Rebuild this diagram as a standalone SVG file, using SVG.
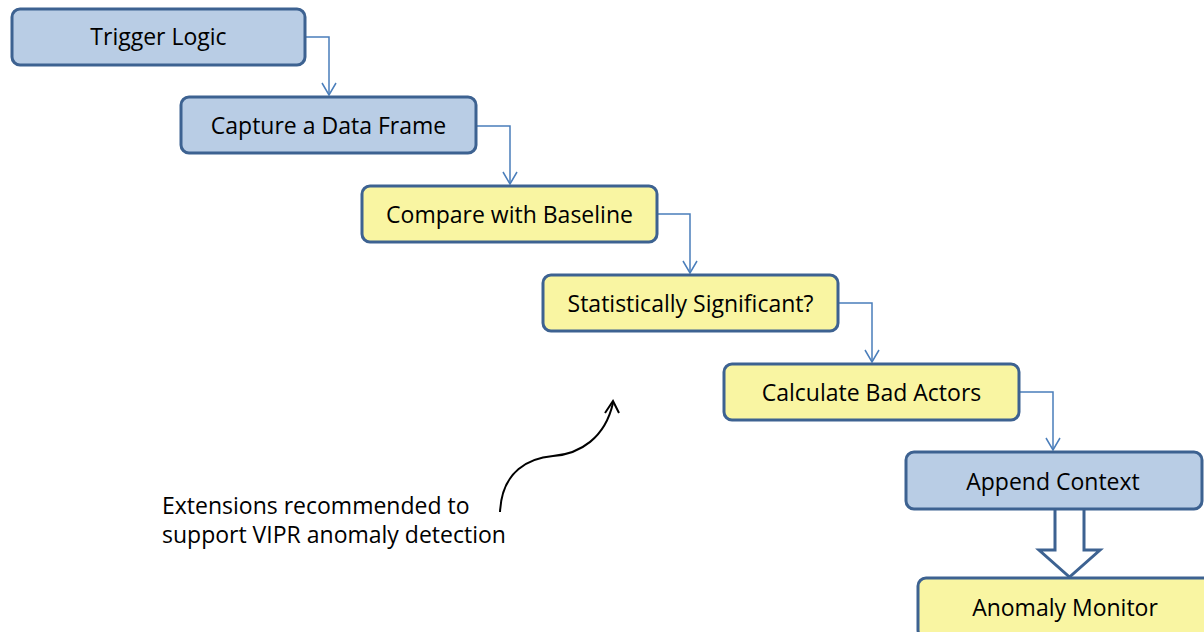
<svg xmlns="http://www.w3.org/2000/svg" width="1204" height="632" viewBox="0 0 1204 632">
<defs>
<style>
.node rect{stroke:#3d6291;stroke-width:3}
.blue rect{fill:#b9cde5}
.yellow rect{fill:#f9f5a2}
text{font-family:"Open Sans","Liberation Sans",sans-serif;font-size:23px;fill:#000}
.node text{text-anchor:middle}
.conn{fill:none;stroke:#4a7ebb;stroke-width:1.5}
</style>
<marker id="arr" viewBox="0 0 16 16" refX="14" refY="8" markerWidth="16" markerHeight="16" markerUnits="userSpaceOnUse" orient="auto">
<path d="M2,1 L14,8 L2,15" fill="none" stroke="#4a7ebb" stroke-width="1.5"/>
</marker>
</defs>
<rect width="1204" height="632" fill="#fff"/>
<g id="connectors">
<path class="conn" d="M306,37 H329 V95" marker-end="url(#arr)"/>
<path class="conn" d="M477,126 H510 V184" marker-end="url(#arr)"/>
<path class="conn" d="M658,214 H690 V273" marker-end="url(#arr)"/>
<path class="conn" d="M838,303 H872 V362" marker-end="url(#arr)"/>
<path class="conn" d="M1020,392 H1053 V450" marker-end="url(#arr)"/>
<path d="M1055,509 V550 H1039 L1069.5,577 L1100,550 H1084 V509" fill="#fff" stroke="#3d6291" stroke-width="3" stroke-linejoin="miter"/>
<path d="M500,512 C502,470 530,458 553,456 C580,454 605,438 613,403" fill="none" stroke="#000" stroke-width="2"/>
<path d="M605,413 L613,401 L619,413" fill="none" stroke="#000" stroke-width="2"/>
</g>
<g id="n1" class="node blue"><rect x="12" y="9" width="293" height="56" rx="8"/><text x="158.5" y="45">Trigger Logic</text></g>
<g id="n2" class="node blue"><rect x="181" y="97" width="295" height="56" rx="8"/><text x="328.5" y="134">Capture a Data Frame</text></g>
<g id="n3" class="node yellow"><rect x="362" y="186" width="295" height="56" rx="8"/><text x="509.5" y="223">Compare with Baseline</text></g>
<g id="n4" class="node yellow"><rect x="543" y="275" width="295" height="56" rx="8"/><text x="690.5" y="312">Statistically Significant?</text></g>
<g id="n5" class="node yellow"><rect x="724" y="364" width="295" height="56" rx="8"/><text x="871.5" y="401">Calculate Bad Actors</text></g>
<g id="n6" class="node blue"><rect x="906" y="452" width="296" height="57" rx="8"/><text x="1053" y="490">Append Context</text></g>
<g id="n7" class="node yellow"><rect x="918" y="578" width="296" height="60" rx="8"/><text x="1065" y="616">Anomaly Monitor</text></g>
<text x="162" y="514">Extensions recommended to</text>
<text x="162" y="543">support VIPR anomaly detection</text>
</svg>
